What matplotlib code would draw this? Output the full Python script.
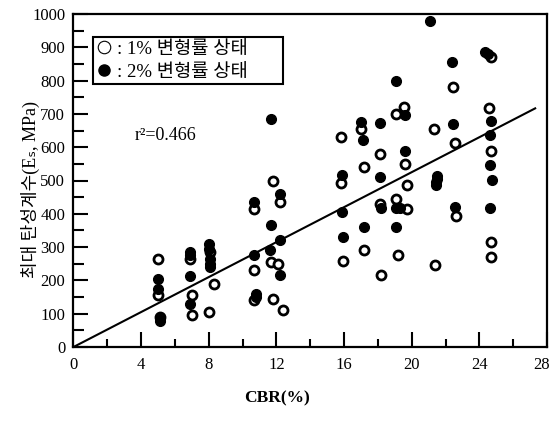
import matplotlib
matplotlib.use("Agg")
import matplotlib.pyplot as plt
from matplotlib.ticker import MultipleLocator
from matplotlib.lines import Line2D
from matplotlib.transforms import ScaledTranslation

SERIF_KR = ['Liberation Serif', 'Noto Sans CJK KR', 'DejaVu Sans']

# 1% strain state (open circles)
cbr_1 = [5.0, 5.0, 5.1, 6.9, 7.0, 7.0, 8.1, 8.3, 8.0, 10.7, 10.7, 10.7,
         11.8, 11.7, 12.1, 11.8, 12.2, 12.4, 15.8, 15.8, 15.95,
         17.0, 17.2, 17.2, 18.1, 18.1, 18.2,
         19.1, 19.55, 19.6, 19.7, 19.05, 19.7, 19.2,
         21.3, 21.35, 22.45, 22.55, 22.6,
         24.7, 24.57, 24.67, 24.7, 24.7]
es_1 = [265, 155, 90, 265, 155, 95, 285, 190, 105, 415, 230, 140,
        500, 255, 250, 145, 435, 110, 630, 493, 258,
        655, 540, 290, 580, 430, 215,
        700, 720, 550, 485, 443, 414, 275,
        655, 245, 780, 614, 393,
        870, 719, 588, 315, 270]

# 2% strain state (filled circles)
cbr_2 = [5.0, 5.0, 5.1, 5.1, 6.9, 6.9, 6.9, 6.9,
         8.0, 8.0, 8.1, 8.1, 8.1, 10.7, 10.7, 10.8, 10.8,
         11.7, 11.7, 11.6, 12.2, 12.2, 12.2,
         15.9, 15.9, 15.95, 17.0, 17.1, 17.2, 18.1, 18.1, 18.2,
         19.1, 19.6, 19.6, 19.1, 19.3, 19.1,
         21.1, 21.5, 21.5, 21.45, 21.45, 22.4, 22.45, 22.55,
         24.35, 24.5, 24.7, 24.65, 24.6, 24.75, 24.6]
es_2 = [205, 175, 85, 78, 285, 275, 213, 130,
        310, 295, 265, 250, 240, 435, 275, 160, 150,
        685, 365, 290, 460, 320, 215,
        516, 405, 330, 676, 621, 360, 672, 510, 416,
        800, 698, 590, 416, 416, 360,
        980, 515, 505, 495, 485, 855, 671, 420,
        885, 880, 680, 636, 546, 503, 416]

# regression line through origin
fit_slope = 26.25
fit_x = [0, 27.3]
r2_text = "r\u00b2=0.466"
x_ticks = [0, 4, 8, 12, 16, 20, 24, 28]

fig = plt.figure(figsize=(5.53, 4.37), dpi=100)
ax = fig.add_axes([73.5 / 553, 1 - 347 / 437, 473.5 / 553, 333 / 437])

ax.plot(cbr_1, es_1, 'o', ms=6.5, mfc='white', mec='black', mew=2.0, zorder=3)
ax.plot(cbr_2, es_2, 'o', ms=7, mfc='black', mec='black', zorder=3)
ax.plot(fit_x, [fit_slope * v for v in fit_x], color='black', lw=1.5, zorder=2)

ax.set_xlim(0, 28)
ax.set_ylim(0, 1000)
ax.set_xticks(x_ticks, [str(v) for v in x_ticks])
ax.xaxis.set_minor_locator(MultipleLocator(2))
ax.yaxis.set_major_locator(MultipleLocator(100))
ax.yaxis.set_minor_locator(MultipleLocator(50))
ax.tick_params(axis='x', which='major', direction='in', length=11, width=1.5, pad=7,
               labelsize=12)
ax.tick_params(axis='x', which='minor', direction='in', length=5.5, width=1.5)
ax.tick_params(axis='y', which='major', direction='in', length=11, width=1.5, pad=6,
               labelsize=12)
ax.tick_params(axis='y', which='minor', direction='in', length=8, width=1.5)
for lab in ax.get_xticklabels() + ax.get_yticklabels():
    lab.set_family('Liberation Serif')
# pull the last x label in so it stays on the page
last = ax.get_xticklabels()[-1]
last.set_transform(last.get_transform() + ScaledTranslation(-0.05, 0, fig.dpi_scale_trans))
for sp in ax.spines.values():
    sp.set_linewidth(1.6)

ax.text(3.6, 636, r2_text, fontsize=13, va='center', family='Liberation Serif')

handles = [Line2D([], [], ls='', marker='o', ms=9, mfc='white', mec='black', mew=0.8),
           Line2D([], [], ls='', marker='o', ms=8, mfc='black', mec='black')]
leg = ax.legend(handles, [': 1% 변형률 상태', ': 2% 변형률 상태'],
                loc='upper left', bbox_to_anchor=(0.041, 0.831, 0.401, 0.1),
                mode='expand', prop={'family': SERIF_KR, 'size': 13.5},
                frameon=True, fancybox=False, framealpha=1, edgecolor='black',
                handlelength=0.8, handletextpad=0.3, borderpad=0.2,
                labelspacing=0.3, borderaxespad=0)
leg.get_frame().set_linewidth(1.5)

fig.text(277 / 553, 1 - 398 / 437, 'CBR(%)', ha='center', va='center',
         fontsize=12.5, fontweight='bold', family='Liberation Serif')
fig.text(30 / 553, 1 - 190 / 437, '최대 탄성계수(E\u209b, MPa)', rotation=90,
         ha='center', va='center', fontsize=13, family=SERIF_KR)

fig.savefig('out.png', dpi=100)
